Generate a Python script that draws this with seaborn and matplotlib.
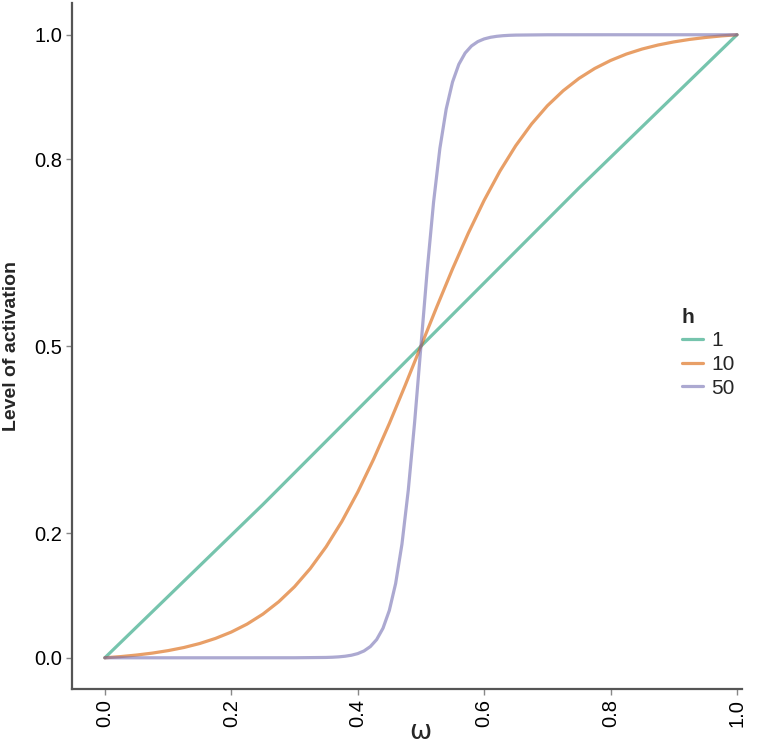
import matplotlib
matplotlib.use("Agg")
import matplotlib.pyplot as plt
import pandas as pd
import seaborn as sns

# values
omega_h1 = [0.0, 0.25, 0.5, 0.75, 1.0]
act_h1 = [0.0, 0.246, 0.5, 0.754, 1.0]

omega_h10 = [
    0.0, 0.025, 0.05, 0.075, 0.1, 0.125, 0.15, 0.175, 0.2, 0.225,
    0.25, 0.275, 0.3, 0.325, 0.35, 0.375, 0.4, 0.425, 0.45, 0.475,
    0.5, 0.525, 0.55, 0.575, 0.6, 0.625, 0.65, 0.675, 0.7, 0.725,
    0.75, 0.775, 0.8, 0.825, 0.85, 0.875, 0.9, 0.925, 0.95, 0.975, 1.0,
]
act_h10 = [
    0.0, 0.0019, 0.0044, 0.0075, 0.0115, 0.0165, 0.0229, 0.0311, 0.0413, 0.0541,
    0.0701, 0.0899, 0.1140, 0.1433, 0.1781, 0.2189, 0.2658, 0.3184, 0.3759, 0.4370,
    0.5, 0.5630, 0.6241, 0.6816, 0.7342, 0.7811, 0.8219, 0.8567, 0.8860, 0.9101,
    0.9299, 0.9459, 0.9587, 0.9690, 0.9771, 0.9835, 0.9885, 0.9925, 0.9956, 0.9981, 1.0,
]

omega_h50 = [
    0.0, 0.1, 0.2, 0.3, 0.35,
    0.36, 0.37, 0.38, 0.39, 0.40, 0.41, 0.42, 0.43, 0.44, 0.45,
    0.46, 0.47, 0.48, 0.49, 0.50, 0.51, 0.52, 0.53, 0.54, 0.55,
    0.56, 0.57, 0.58, 0.59, 0.60, 0.61, 0.62, 0.63, 0.64,
    0.65, 0.7, 0.8, 0.9, 1.0,
]
act_h50 = [
    0.0, 0.0, 0.0, 0.00005, 0.00055,
    0.0009, 0.0015, 0.0025, 0.0041, 0.0067, 0.0110, 0.0180, 0.0293, 0.0474, 0.0759,
    0.1192, 0.1824, 0.2689, 0.3775, 0.5, 0.6225, 0.7311, 0.8176, 0.8808, 0.9241,
    0.9526, 0.9707, 0.9820, 0.9890, 0.9933, 0.9959, 0.9975, 0.9985, 0.9991,
    0.99945, 0.99995, 1.0, 1.0, 1.0,
]

hill_values = ["1", "10", "50"]
y_ticks = [0.0, 0.2, 0.5, 0.8, 1.0]
x_ticks = [0.0, 0.2, 0.4, 0.6, 0.8, 1.0]

frames = []
for h, xs, ys in zip(hill_values, [omega_h1, omega_h10, omega_h50], [act_h1, act_h10, act_h50]):
    frames.append(pd.DataFrame({"omega": xs, "activation": ys, "h": h}))
df = pd.concat(frames, ignore_index=True)

sns.set_style("ticks")
plt.rcParams["font.family"] = ["Liberation Sans", "DejaVu Sans"]

fig = plt.figure(figsize=(7.74, 7.44), dpi=100)
ax = fig.add_axes([0.093, 0.074, 0.8657, 0.922])

palette = sns.color_palette("Dark2", 3)
sns.lineplot(data=df, x="omega", y="activation", hue="h", hue_order=hill_values,
             palette=palette, linewidth=2.3, alpha=0.6, ax=ax, sort=False)

ax.set_xlim(-0.052, 1.008)
ax.set_ylim(-0.05, 1.051)
ax.set_xticks(x_ticks)
ax.set_xticklabels([f"{v:.1f}" for v in x_ticks], rotation=90)
ax.set_yticks(y_ticks)
ax.set_yticklabels([f"{v:.1f}" for v in y_ticks])
ax.tick_params(axis="both", labelsize=14.5, color="#888888", length=4, width=1,
               labelcolor="black", pad=3)

for side in ["top", "right"]:
    ax.spines[side].set_visible(False)
for side in ["left", "bottom"]:
    ax.spines[side].set_color("#555555")
    ax.spines[side].set_linewidth(1.6)

ax.set_xlabel("ω", fontsize=19, family="DejaVu Sans", va="center")
ax.xaxis.set_label_coords(0.52, -0.063)
ax.set_ylabel("Level of activation", fontsize=14, fontweight="bold", labelpad=10)

leg = ax.legend(title="h", loc="upper left", bbox_to_anchor=(0.882, 0.583),
                frameon=False, fontsize=15, title_fontsize=15,
                handlelength=1.0, handletextpad=0.4, labelspacing=0.22)
leg.get_title().set_fontweight("bold")
leg._legend_box.align = "left"
for line in leg.get_lines():
    line.set_linewidth(2.3)

fig.savefig("out.png", dpi=100)
